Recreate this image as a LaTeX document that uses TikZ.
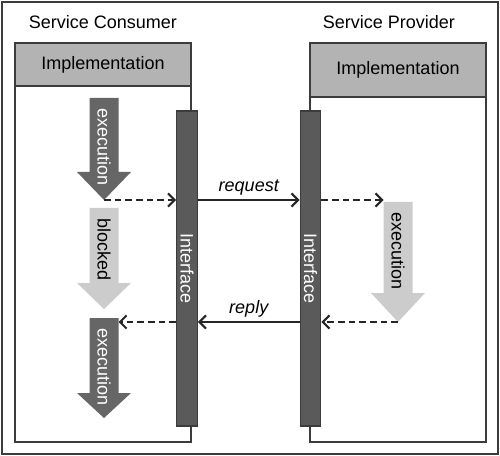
\documentclass[tikz,border=0pt]{standalone}
\usepackage{fontspec}
\setmainfont{Liberation Sans}
\usetikzlibrary{arrows.meta}
\definecolor{hdrgray}{HTML}{B3B3B3}
\definecolor{bargray}{HTML}{5A5A5A}
\definecolor{darkflow}{HTML}{666666}
\definecolor{lightflow}{HTML}{CCCCCC}
\definecolor{linegray}{HTML}{3C3C3C}
\begin{document}
\begin{tikzpicture}
  [x=0.75pt, y=-0.75pt,
  every node/.style={font=\fontsize{13.5}{16}\selectfont},
  lbl/.style={font=\fontsize{13.5}{16}\selectfont\itshape, above, inner sep=3pt},
  frame/.style={draw=linegray, line width=0.9pt},
  header/.style={frame, fill=hdrgray, minimum width=132pt, inner sep=0pt},
  ifbar/.style={frame, fill=bargray, minimum width=15.5pt, minimum height=236.25pt, inner sep=0pt},
  flow/.style={draw=black!85, line width=0.9pt, -{Straight Barb[length=5pt,width=10pt,line width=1.5pt]}},
  call/.style={flow, dash pattern=on 5pt off 3pt},
  ]
  \useasboundingbox (0,0) rectangle (500,456);
  \draw[draw=linegray, line width=1.2pt] (2,2) rectangle (498,454);

  % columns
  \node (ctitle) at (103,22) {Service Consumer};
  \node (ptitle) at (389,22) {Service Provider};
  \draw[frame] (15,43) rectangle (191,442);
  \draw[frame] (310,43) rectangle (486,442);
  \node[header, minimum height=32.25pt] (cimpl) at (103,64.5) {Implementation};
  \node[header, minimum height=40.5pt] (pimpl) at (398,70) {Implementation};

  % interface bars
  \node[ifbar] (cif) at (187,268.5) {};
  \node[ifbar] (pif) at (310.5,268.5) {};
  \node[rotate=-90, text=white] at (cif) {Interface};
  \node[rotate=-90, text=white] at (pif) {Interface};

  % big arrows: centre/top/head/tip/fill/text colour/text/name
  \foreach \c/\t/\b/\p/\col/\tcol/\txt/\name in
    {104/98/172/200/darkflow/white/execution/cexec,
     104/208/283/309/lightflow/black/blocked/cblock,
     104/318/393/418/darkflow/white/execution/cexec2,
     398/202/293/322/lightflow/black/execution/pexec}
  {
    \fill[\col] (\c-14.5,\t) -- (\c+14.5,\t) -- (\c+14.5,\b) -- (\c+27,\b)
      -- (\c,\p) -- (\c-27,\b) -- (\c-14.5,\b) -- cycle;
    \node[rotate=-90, anchor=west, inner sep=0pt, text=\tcol] (\name) at (\c,\t+10) {\txt};
    \coordinate (\name-tip) at (\c,\p);
    \coordinate (\name-nw) at (\c-14.5,\t);
    \coordinate (\name-ne) at (\c+14.5,\t);
  }

  % messages
  \draw[call] (cexec-tip) -- (cexec-tip -| cif.west);
  \draw[flow] (cexec-tip -| cif.east) -- node[lbl] {request} (cexec-tip -| pif.west);
  \draw[call] (cexec-tip -| pif.east) -- (cexec-tip -| pexec-nw);
  \draw[call] (pexec-tip) -- (pexec-tip -| pif.east);
  \draw[flow] (pexec-tip -| pif.west) -- node[lbl] {reply} (pexec-tip -| cif.east);
  \draw[call] (pexec-tip -| cif.west) -- (pexec-tip -| cexec2-ne);
\end{tikzpicture}
\end{document}
